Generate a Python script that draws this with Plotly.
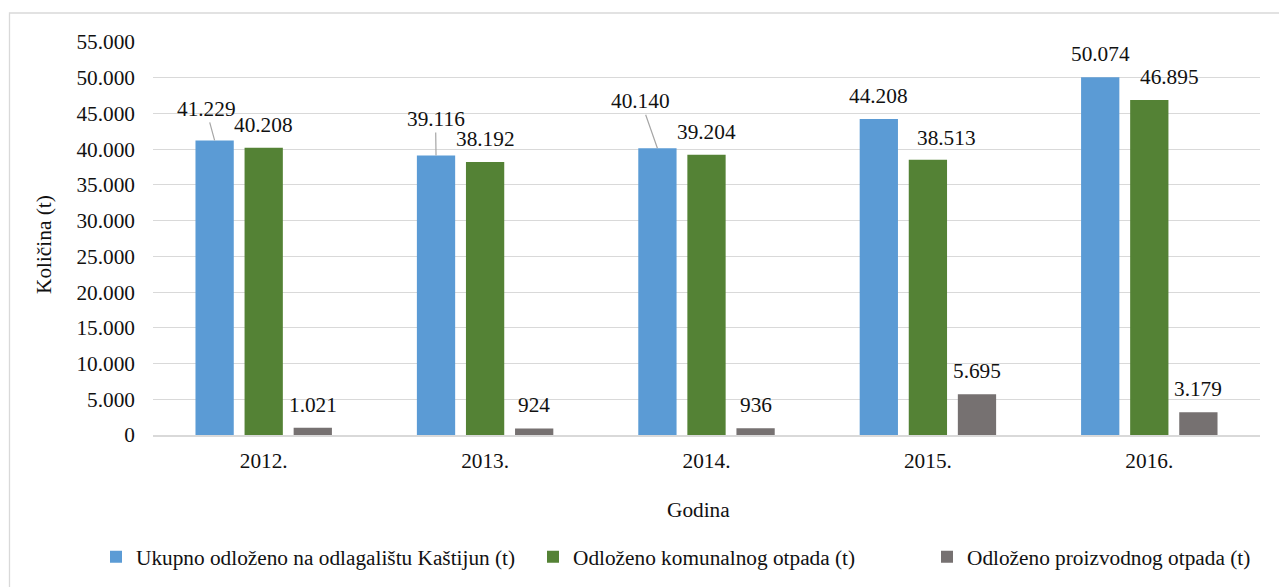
import plotly.graph_objects as go

# ---- data ----
years = ["2012.", "2013.", "2014.", "2015.", "2016."]
ukupno = [41229, 39116, 40140, 44208, 50074]
komunalni = [40208, 38192, 39204, 38513, 46895]
proizvodni = [1021, 924, 936, 5695, 3179]
series_names = [
    "Ukupno odloženo na odlagalištu Kaštijun (t)",
    "Odloženo komunalnog otpada (t)",
    "Odloženo proizvodnog otpada (t)",
]
colors = ["#5B9BD5", "#548235", "#767171"]
y_title = "Količina (t)"
x_title = "Godina"

FONT = "Liberation Serif, Times New Roman, serif"
FS = 21.3
TXT = "#111111"
GRID = "#D9D9D9"

W, H = 1279, 587
ML, MR, MT, MB = 153, 19, 42, 152
PW = W - ML - MR
PH = H - MT - MB

BARGAP = 0.335
BARGROUPGAP = 0.22

fig = go.Figure()
all_series = [ukupno, komunalni, proizvodni]
legend_ids = ["legend", "legend2", "legend3"]
for vals, name, col, lg in zip(all_series, series_names, colors, legend_ids):
    fig.add_trace(go.Bar(x=years, y=vals, name=name, marker_color=col,
                         marker_line_width=0, legend=lg, showlegend=True,
                         hoverinfo="x+y+name"))

def fmt(v):
    return f"{v:,}".replace(",", ".")

slot = (1 - BARGAP) / 3
# label placement tweaks (pixels): (dx, dy above bar top, leader line)
default_off = 23
tweaks = {
    (0, 0): (-8.6, 31.5, True),
    (0, 1): (-0.5, 36.5, True),
    (0, 2): (-16.5, 47, True),
    (1, 3): (19, 22, False),
    (1, 4): (20, 22.5, False),
}
annotations = []
for j, vals in enumerate(all_series):
    for i, v in enumerate(vals):
        dx, dy, arrow = tweaks.get((j, i), (0, default_off, False))
        xpos = i + (j - 1) * slot
        if arrow:
            annotations.append(dict(
                x=xpos, y=v, xref="x", yref="y", text=fmt(v),
                showarrow=True, ax=dx, ay=-dy, arrowhead=0, arrowwidth=1.2,
                arrowcolor="#A6A6A6", standoff=0,
                font=dict(family=FONT, size=FS, color=TXT)))
        else:
            annotations.append(dict(
                x=xpos, y=v, xref="x", yref="y", text=fmt(v),
                showarrow=False, xshift=dx, yshift=dy, yanchor="middle",
                xanchor="center",
                font=dict(family=FONT, size=FS, color=TXT)))

# axis titles
annotations.append(dict(x=(44 - ML) / PW, y=(435 - 245) / PH, xref="paper", yref="paper",
                        xanchor="center", yanchor="middle",
                        text=y_title, textangle=-90, showarrow=False,
                        font=dict(family=FONT, size=FS, color=TXT)))
annotations.append(dict(x=(698 - ML) / PW, y=(435 - 510) / PH, xref="paper", yref="paper",
                        xanchor="center", yanchor="middle",
                        text=x_title, showarrow=False,
                        font=dict(family=FONT, size=FS, color=TXT)))

leg_common = dict(orientation="h", xanchor="left", yanchor="middle",
                  xref="container", yref="container",
                  y=1 - 557 / H, font=dict(family=FONT, size=FS, color=TXT),
                  bgcolor="rgba(0,0,0,0)", itemclick=False, itemdoubleclick=False)
leg_x = [116, 553, 947]

fig.update_layout(
    width=W, height=H,
    margin=dict(l=ML, r=MR, t=MT, b=MB),
    paper_bgcolor="white", plot_bgcolor="white",
    separators=",.",
    showlegend=True,
    barmode="group", bargap=BARGAP, bargroupgap=BARGROUPGAP,
    font=dict(family=FONT, size=FS, color=TXT),
    xaxis=dict(showline=True, linecolor=GRID, linewidth=1.5, ticks="",
               ticklabelstandoff=6,
               tickfont=dict(family=FONT, size=FS, color=TXT), showgrid=False),
    yaxis=dict(range=[0, 55000], dtick=5000, tickformat=",d", showgrid=True,
               gridcolor=GRID, gridwidth=1.3, zeroline=False, ticks="",
               ticklabelstandoff=17,
               tickfont=dict(family=FONT, size=FS, color=TXT)),
    annotations=annotations,
    legend=dict(**leg_common, x=(leg_x[0] - 20) / W),
    legend2=dict(**leg_common, x=(leg_x[1] - 20) / W),
    legend3=dict(**leg_common, x=(leg_x[2] - 20) / W),
    shapes=[dict(type="rect", xref="paper", yref="paper",
                 x0=(9.5 - ML) / PW, x1=(W + 20 - ML) / PW,
                 y0=(435 - H - 20) / PH, y1=(435 - 13) / PH,
                 line=dict(color=GRID, width=1.3), fillcolor="rgba(0,0,0,0)",
                 layer="below")],
)

fig.write_html("out.html", config={"displayModeBar": False},
               post_script="document.body.style.margin='0';document.body.style.padding='0';")
